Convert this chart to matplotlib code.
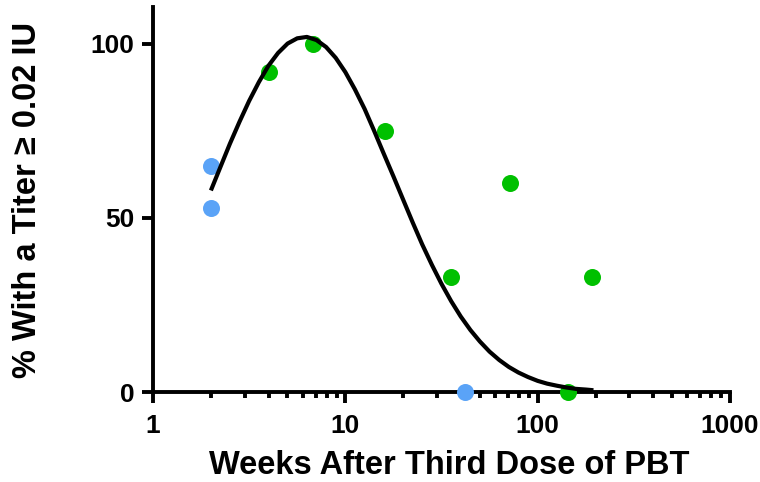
import matplotlib
matplotlib.use("Agg")
import matplotlib.pyplot as plt
from matplotlib.ticker import FixedLocator, NullLocator

# semanas tras la tercera dosis / % con titulo >= 0.02 UI
semanas_azul = [2, 2, 42]
pct_azul = [65, 53, 0]

semanas_verde = [4, 6.8, 16, 35.5, 72, 143, 192]
pct_verde = [92, 100, 75, 33, 60, 0, 33]

# curva ajustada
curva_x = [2.0, 2.24, 2.51, 2.82, 3.16, 3.55, 3.98, 4.47, 5.01, 5.62, 6.31,
           7.08, 7.94, 8.91, 10, 11.2, 12.6, 14.1, 15.8, 17.8, 20.0, 22.4,
           25.1, 28.2, 31.6, 35.5, 39.8, 44.7, 50.1, 56.2, 63.1, 70.8, 79.4,
           89.1, 100, 112, 126, 141, 158, 178, 195]
curva_y = [57.9, 64.6, 71.3, 77.7, 83.6, 89.0, 93.7, 97.4, 100.1, 101.6, 102.0,
           101.1, 99.1, 96.0, 91.9, 87.0, 81.3, 75.1, 68.6, 61.9, 55.2, 48.7,
           42.4, 36.5, 31.1, 26.1, 21.7, 17.8, 14.5, 11.6, 9.2, 7.2, 5.6,
           4.3, 3.2, 2.4, 1.8, 1.3, 0.9, 0.7, 0.5]

ticks_x = [1, 10, 100, 1000]
etiquetas_x = ["1", "10", "100", "1000"]
ticks_y = [0, 50, 100]

plt.rcParams["font.family"] = ["Liberation Sans", "DejaVu Sans"]
plt.rcParams["font.weight"] = "bold"

fig = plt.figure(figsize=(7.6, 4.82), dpi=100)
ax = fig.add_axes([153 / 760, 90 / 482, 577 / 760, 385 / 482])

ax.scatter(semanas_azul, pct_azul, s=150, color="#5aa3f7", zorder=4,
           clip_on=False, linewidths=0)
ax.scatter(semanas_verde, pct_verde, s=150, color="#00c000", zorder=4,
           clip_on=False, linewidths=0)
ax.plot(curva_x, curva_y, color="black", lw=3, zorder=5, clip_on=False,
        solid_capstyle="butt")

ax.set_xscale("log")
ax.set_xlim(1, 1000)
ax.set_ylim(0, 110.6)

ax.xaxis.set_major_locator(FixedLocator(ticks_x))
ax.set_xticklabels(etiquetas_x)
minor = [m * d for d in (1, 10, 100) for m in range(2, 10)]
ax.xaxis.set_minor_locator(FixedLocator(minor))
ax.yaxis.set_major_locator(FixedLocator(ticks_y))
ax.yaxis.set_minor_locator(NullLocator())

for lado in ("top", "right"):
    ax.spines[lado].set_visible(False)
for lado in ("left", "bottom"):
    ax.spines[lado].set_linewidth(2.8)
    ax.spines[lado].set_zorder(3)

ax.tick_params(axis="both", which="major", direction="out", length=8,
               width=2.8, labelsize=19)
ax.tick_params(axis="x", which="major", pad=8)
ax.tick_params(axis="y", which="major", pad=5.5)
ax.tick_params(axis="x", which="minor", direction="out", length=4.5,
               width=2.8)

ax.set_xlabel("Weeks After Third Dose of PBT", fontsize=23.5, fontweight="bold")
ax.set_ylabel("% With a Titer \u2265 0.02 IU", fontsize=23.5, fontweight="bold")
ax.xaxis.set_label_coords(0.513, -0.19)
ax.xaxis.label.set_va("center")
ax.yaxis.set_label_coords(-0.218, 0.5)
ax.yaxis.label.set_va("center")

fig.savefig("out.png", dpi=100)
